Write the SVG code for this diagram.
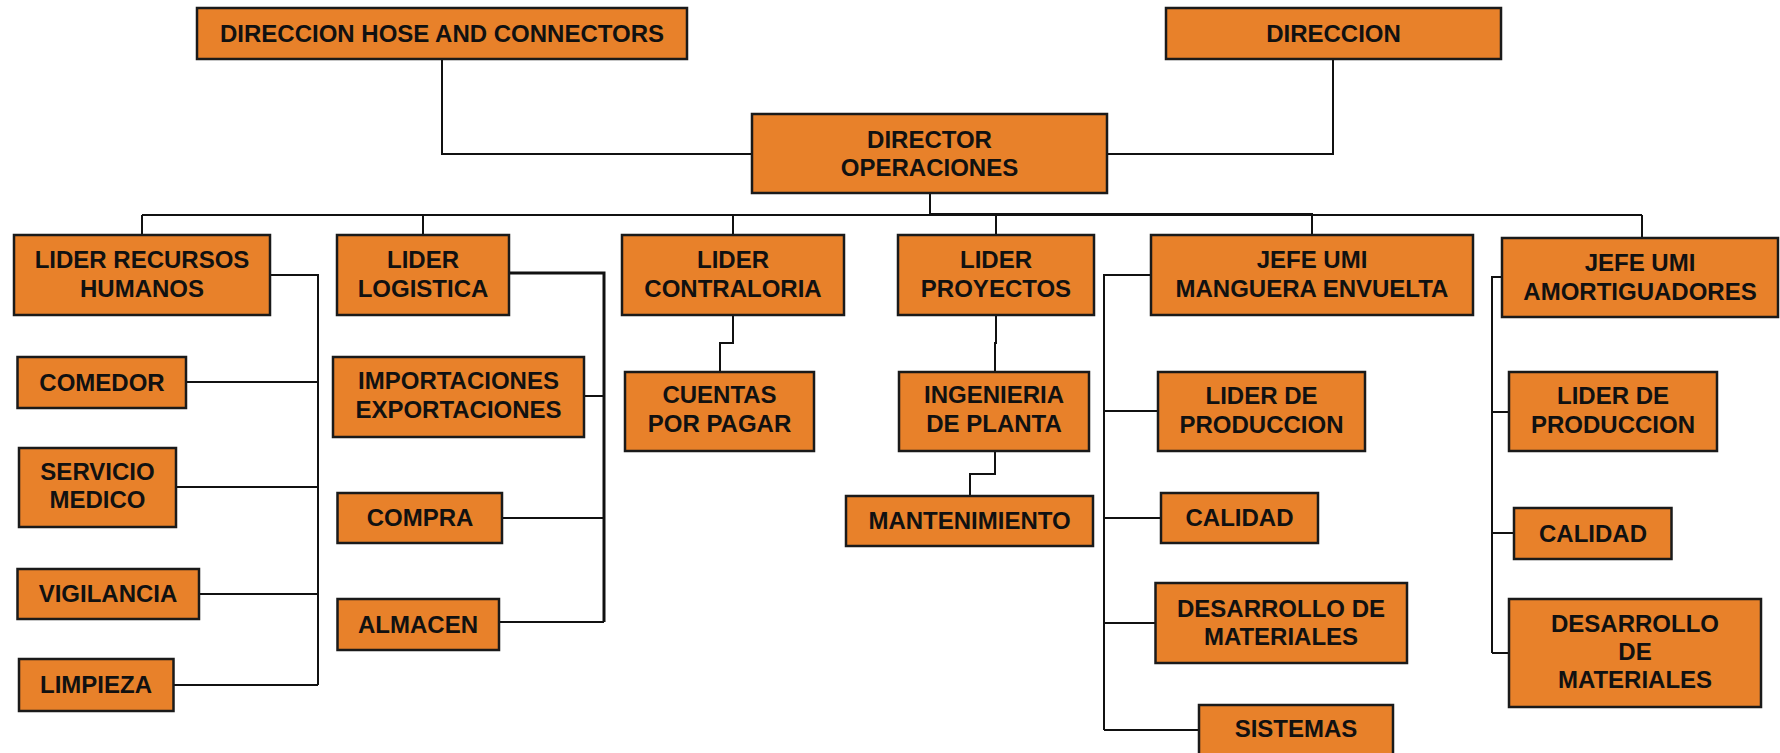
<svg xmlns="http://www.w3.org/2000/svg" width="1780" height="753" viewBox="0 0 1780 753">
  <style>
    .box { fill: #E8812A; stroke: #1a1a1a; stroke-width: 2.5; }
    .lbl { font-family: "Liberation Sans", Arial, sans-serif; font-weight: bold; font-size: 24px; fill: #111; text-anchor: middle; }
    .wire { fill: none; stroke: #111; stroke-width: 2; }
    .wire.heavy { stroke-width: 3; }
  </style>
  <rect width="1780" height="753" fill="#ffffff"/>

  <!-- connectors -->
  <g id="connectors">
    <path class="wire" d="M442 59 V154 H752"/>
    <path class="wire" d="M1333 59 V154 H1107"/>
    <path class="wire" d="M930 193 V215"/>
    <path class="wire" d="M142 215 H1642"/>
    <path class="wire heavy" d="M930 214.5 H1313"/>
    <path class="wire" d="M142 215 V235 M423 215 V235 M733 215 V235 M996 215 V235 M1312 215 V235 M1642 215 V238"/>
    <!-- recursos humanos -->
    <path class="wire" d="M270 275 H318 V685 M186 382 H318 M176 487 H318 M199 594 H318 M173.5 685 H318"/>
    <!-- logistica -->
    <path class="wire heavy" d="M509 273 H604 V622"/>
    <path class="wire" d="M584 396 H604 M502 518 H604 M499 622 H604"/>
    <!-- contraloria -->
    <path class="wire" d="M733 315 V343 H720 V372"/>
    <!-- proyectos -->
    <path class="wire" d="M996 315 V343 H995 V372"/>
    <path class="wire" d="M995 451 V474 H970 V496"/>
    <!-- manguera envuelta -->
    <path class="wire" d="M1151 275 H1104 V730 M1104 411 H1158 M1104 518 H1161 M1104 623 H1155.5 M1104 730 H1199"/>
    <!-- amortiguadores -->
    <path class="wire" d="M1502 277 H1492 V653 M1492 412 H1509 M1492 533 H1514 M1492 653 H1509"/>
  </g>

  <!-- top level -->
  <g id="dir-hose">
    <rect class="box" x="197" y="8" width="490" height="51"/>
    <text class="lbl" x="442" y="42">DIRECCION HOSE AND CONNECTORS</text>
  </g>
  <g id="direccion">
    <rect class="box" x="1166" y="8" width="335" height="51"/>
    <text class="lbl" x="1333.5" y="42">DIRECCION</text>
  </g>
  <g id="director-operaciones">
    <rect class="box" x="752" y="114" width="355" height="79"/>
    <text class="lbl" x="929.5" y="148">DIRECTOR</text>
    <text class="lbl" x="929.5" y="176">OPERACIONES</text>
  </g>

  <!-- second level -->
  <g id="lider-rrhh">
    <rect class="box" x="14" y="235" width="256" height="80"/>
    <text class="lbl" x="142" y="268">LIDER RECURSOS</text>
    <text class="lbl" x="142" y="297">HUMANOS</text>
  </g>
  <g id="lider-logistica">
    <rect class="box" x="337" y="235" width="172" height="80"/>
    <text class="lbl" x="423" y="268">LIDER</text>
    <text class="lbl" x="423" y="297">LOGISTICA</text>
  </g>
  <g id="lider-contraloria">
    <rect class="box" x="622" y="235" width="222" height="80"/>
    <text class="lbl" x="733" y="268">LIDER</text>
    <text class="lbl" x="733" y="297">CONTRALORIA</text>
  </g>
  <g id="lider-proyectos">
    <rect class="box" x="898" y="235" width="196" height="80"/>
    <text class="lbl" x="996" y="268">LIDER</text>
    <text class="lbl" x="996" y="297">PROYECTOS</text>
  </g>
  <g id="jefe-manguera">
    <rect class="box" x="1151" y="235" width="322" height="80"/>
    <text class="lbl" x="1312" y="268">JEFE UMI</text>
    <text class="lbl" x="1312" y="297">MANGUERA ENVUELTA</text>
  </g>
  <g id="jefe-amortiguadores">
    <rect class="box" x="1502" y="238" width="276" height="79"/>
    <text class="lbl" x="1640" y="271">JEFE UMI</text>
    <text class="lbl" x="1640" y="300">AMORTIGUADORES</text>
  </g>

  <!-- recursos humanos -->
  <g id="comedor">
    <rect class="box" x="17.5" y="357" width="168.5" height="51"/>
    <text class="lbl" x="102" y="391">COMEDOR</text>
  </g>
  <g id="servicio-medico">
    <rect class="box" x="19" y="448" width="157" height="79"/>
    <text class="lbl" x="97.5" y="480">SERVICIO</text>
    <text class="lbl" x="97.5" y="508">MEDICO</text>
  </g>
  <g id="vigilancia">
    <rect class="box" x="17.5" y="569" width="181.5" height="50"/>
    <text class="lbl" x="108" y="602">VIGILANCIA</text>
  </g>
  <g id="limpieza">
    <rect class="box" x="19" y="659" width="154.5" height="52"/>
    <text class="lbl" x="96" y="693">LIMPIEZA</text>
  </g>

  <!-- logistica -->
  <g id="importaciones">
    <rect class="box" x="333" y="357" width="251" height="80"/>
    <text class="lbl" x="458.5" y="389">IMPORTACIONES</text>
    <text class="lbl" x="458.5" y="418">EXPORTACIONES</text>
  </g>
  <g id="compra">
    <rect class="box" x="337.5" y="493" width="164.5" height="50"/>
    <text class="lbl" x="420" y="526">COMPRA</text>
  </g>
  <g id="almacen">
    <rect class="box" x="337.5" y="599" width="161.5" height="51"/>
    <text class="lbl" x="418" y="633">ALMACEN</text>
  </g>

  <!-- contraloria -->
  <g id="cuentas-por-pagar">
    <rect class="box" x="625" y="372" width="189" height="79"/>
    <text class="lbl" x="719.5" y="403">CUENTAS</text>
    <text class="lbl" x="719.5" y="432">POR PAGAR</text>
  </g>

  <!-- proyectos -->
  <g id="ingenieria-planta">
    <rect class="box" x="899" y="372" width="190" height="79"/>
    <text class="lbl" x="994" y="403">INGENIERIA</text>
    <text class="lbl" x="994" y="432">DE PLANTA</text>
  </g>
  <g id="mantenimiento">
    <rect class="box" x="846" y="496" width="247" height="50"/>
    <text class="lbl" x="969.5" y="529">MANTENIMIENTO</text>
  </g>

  <!-- manguera envuelta -->
  <g id="produccion-m">
    <rect class="box" x="1158" y="372" width="207" height="79"/>
    <text class="lbl" x="1261.5" y="404">LIDER DE</text>
    <text class="lbl" x="1261.5" y="433">PRODUCCION</text>
  </g>
  <g id="calidad-m">
    <rect class="box" x="1161" y="493" width="157" height="50"/>
    <text class="lbl" x="1239.5" y="526">CALIDAD</text>
  </g>
  <g id="materiales-m">
    <rect class="box" x="1155.5" y="583" width="251.5" height="80"/>
    <text class="lbl" x="1281" y="617">DESARROLLO DE</text>
    <text class="lbl" x="1281" y="645">MATERIALES</text>
  </g>
  <g id="sistemas">
    <rect class="box" x="1199" y="705" width="194" height="60"/>
    <text class="lbl" x="1296" y="737">SISTEMAS</text>
  </g>

  <!-- amortiguadores -->
  <g id="produccion-a">
    <rect class="box" x="1509" y="372" width="208" height="79"/>
    <text class="lbl" x="1613" y="404">LIDER DE</text>
    <text class="lbl" x="1613" y="433">PRODUCCION</text>
  </g>
  <g id="calidad-a">
    <rect class="box" x="1514" y="508" width="157.5" height="51"/>
    <text class="lbl" x="1593" y="542">CALIDAD</text>
  </g>
  <g id="materiales-a">
    <rect class="box" x="1509" y="599" width="252" height="108"/>
    <text class="lbl" x="1635" y="632">DESARROLLO</text>
    <text class="lbl" x="1635" y="660">DE</text>
    <text class="lbl" x="1635" y="688">MATERIALES</text>
  </g>
</svg>
